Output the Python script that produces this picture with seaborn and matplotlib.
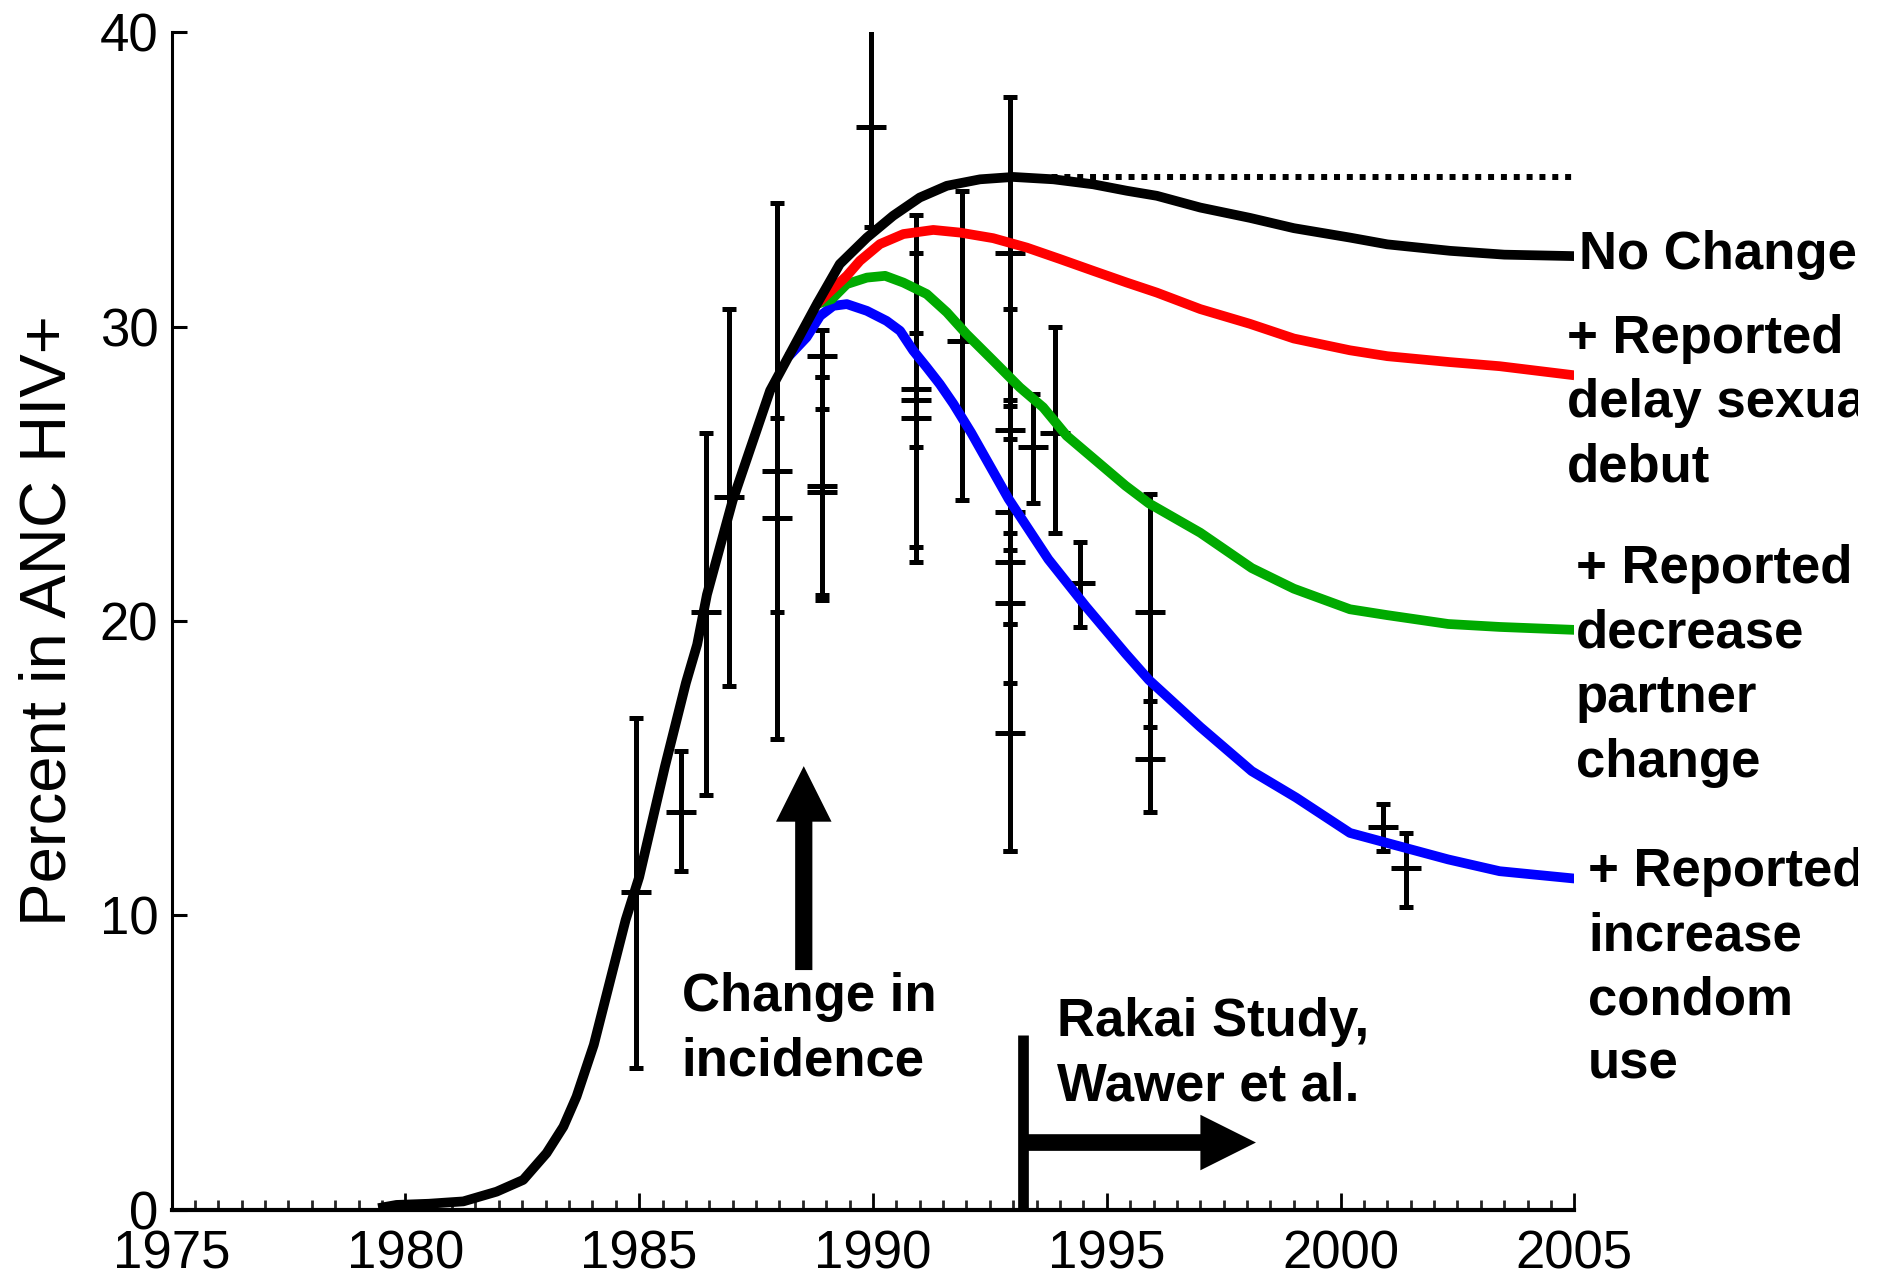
import numpy as np
import pandas as pd
import matplotlib
matplotlib.use("Agg")
import matplotlib.pyplot as plt
from matplotlib.ticker import MultipleLocator
from matplotlib.patches import Rectangle
import seaborn as sns

# ---- Model projections: percent of antenatal-clinic attendees HIV+ ----
year_none = [1979.42, 1979.81, 1980.5, 1981.24, 1981.95, 1982.52, 1983.02, 1983.38,
             1983.66, 1984.03, 1984.43, 1984.71, 1985.0, 1985.55, 1986.0, 1986.24,
             1986.45, 1987.0, 1987.8, 1988.3, 1988.8, 1989.29, 1989.87, 1990.43,
             1991.0, 1991.58, 1992.29, 1993.0, 1993.86, 1994.71, 1995.43, 1996.07,
             1997.0, 1998.06, 1999.0, 2000.2, 2001.0, 2002.34, 2003.5, 2005.0]
pct_none = [0.05, 0.16, 0.2, 0.28, 0.61, 1.01, 1.92, 2.82,
            3.84, 5.6, 8.1, 9.84, 11.3, 15.05, 17.9, 19.2,
            20.9, 24.1, 27.83, 29.3, 30.77, 32.13, 33.03, 33.77,
            34.39, 34.79, 35.01, 35.09, 35.01, 34.84, 34.62, 34.45,
            34.05, 33.7, 33.35, 33.03, 32.8, 32.58, 32.45, 32.4]

year_debut = [1988.8, 1989.44, 1989.72, 1990.15, 1990.65, 1991.29, 1991.86, 1992.57,
              1993.29, 1994.0, 1994.71, 1995.43, 1996.07, 1997.0, 1998.06, 1999.0,
              2000.2, 2001.0, 2002.33, 2003.4, 2005.0]
pct_debut = [30.77, 31.73, 32.24, 32.81, 33.15, 33.29, 33.2, 33.01,
             32.69, 32.3, 31.9, 31.5, 31.16, 30.6, 30.1, 29.6,
             29.2, 29.0, 28.8, 28.66, 28.35]

year_partner = [1988.8, 1989.12, 1989.44, 1989.87, 1990.26, 1990.65, 1991.15, 1991.58,
                1992.0, 1992.57, 1993.14, 1993.64, 1994.14, 1995.4, 1995.9, 1997.0,
                1998.1, 1999.0, 2000.2, 2001.0, 2002.3, 2003.4, 2005.0]
pct_partner = [30.77, 30.94, 31.45, 31.67, 31.73, 31.5, 31.11, 30.49,
               29.75, 28.85, 27.94, 27.26, 26.3, 24.6, 24.0, 23.0,
               21.8, 21.1, 20.4, 20.2, 19.9, 19.8, 19.7]

year_condom = [1988.2, 1988.58, 1988.87, 1989.15, 1989.44, 1989.87, 1990.29, 1990.58,
               1990.86, 1991.15, 1991.43, 1991.72, 1992.1, 1992.9, 1993.75, 1994.55,
               1995.4, 1995.9, 1997.0, 1998.1, 1999.05, 2000.2, 2002.3, 2003.4, 2005.0]
pct_condom = [29.0, 29.64, 30.37, 30.71, 30.77, 30.54, 30.2, 29.86,
              29.19, 28.62, 28.05, 27.38, 26.4, 24.15, 22.1, 20.5,
              18.9, 18.0, 16.4, 14.9, 14.0, 12.8, 11.9, 11.5, 11.25]

scenario_names = ["No Change",
                  "+ Reported\ndelay sexual\ndebut",
                  "+ Reported\ndecrease\npartner\nchange",
                  "+ Reported\nincrease\ncondom\nuse"]
scenario_colors = ["#000000", "#FF0000", "#00AA00", "#0000FF"]

# ---- ANC surveillance estimates with confidence ranges ----
obs_year = [1984.93, 1985.9, 1986.42, 1986.92, 1987.95, 1987.95,
            1988.92, 1988.92, 1988.92, 1989.96,
            1990.93, 1990.93, 1990.93, 1991.9,
            1992.93, 1992.93, 1992.93, 1992.93, 1992.93, 1992.93,
            1993.42, 1993.9, 1994.43, 1995.92, 1995.92, 2000.9, 2001.4]
obs_pct = [10.8, 13.5, 20.3, 24.2, 25.1, 23.5,
           29.0, 24.6, 24.4, 36.8,
           27.9, 27.5, 26.9, 29.5,
           32.5, 26.5, 23.7, 22.0, 20.6, 16.2,
           25.9, 26.4, 21.3, 20.3, 15.3, 13.0, 11.6]
obs_low = [4.8, 11.5, 14.1, 17.8, 16.0, 20.3,
           28.3, 20.7, 20.9, 33.4,
           22.0, 22.5, 25.9, 24.1,
           27.3, 22.4, 19.9, 17.9, 12.2, 12.2,
           24.0, 23.0, 19.8, 16.4, 13.5, 12.2, 10.3]
obs_high = [16.7, 15.6, 26.4, 30.6, 34.2, 26.9,
            29.9, 28.3, 27.2, 41.0,
            33.8, 32.5, 29.8, 34.6,
            37.8, 30.6, 27.5, 26.2, 23.0, 19.9,
            27.7, 30.0, 22.7, 24.3, 17.3, 13.8, 12.8]

x_ticks = [1975, 1980, 1985, 1990, 1995, 2000, 2005]
y_ticks = [0, 10, 20, 30, 40]

# ---- Assemble long-form table for seaborn ----
frames = []
for name, yrs, vals in zip(scenario_names,
                           [year_none, year_debut, year_partner, year_condom],
                           [pct_none, pct_debut, pct_partner, pct_condom]):
    frames.append(pd.DataFrame({"year": yrs, "pct": vals, "scenario": name}))
curves = pd.concat(frames, ignore_index=True)

sns.set_style("ticks")
plt.rcParams["font.family"] = ["Liberation Sans", "DejaVu Sans"]

fig = plt.figure(figsize=(18.81, 12.78), dpi=100)
ax = fig.add_axes([0.0912, 0.0535, 0.7458, 0.9211])

# Observed estimates with error bars
yerr = [np.array(obs_pct) - np.array(obs_low), np.array(obs_high) - np.array(obs_pct)]
ax.errorbar(obs_year, obs_pct, yerr=yerr, fmt="_", color="k", ms=21, mew=3.6,
            elinewidth=3.6, capsize=5.0, capthick=5.5, zorder=2)

# Reference level: peak of the no-change projection held constant
peak = max(pct_none)
ax.hlines(peak, 1993.0, 2005.0, colors="k", linewidth=4.3,
          linestyles=(0, (1.0, 1.15)), zorder=2.5)

# Projections (black drawn last so it sits on top where curves coincide)
draw_order = scenario_names[::-1]
palette = dict(zip(scenario_names, scenario_colors))
sns.lineplot(data=curves, x="year", y="pct", hue="scenario", hue_order=draw_order,
             palette=palette, linewidth=7, legend=False, estimator=None,
             ax=ax, zorder=3)
for ln in ax.get_lines():
    ln.set_solid_capstyle("butt")

# Axes styling
ax.set_xlim(1975, 2005)
ax.set_ylim(0, 40)
ax.set_xticks(x_ticks)
ax.set_yticks(y_ticks)
ax.xaxis.set_minor_locator(MultipleLocator(0.5))
ax.tick_params(axis="x", which="major", direction="in", length=12.5, width=2,
               labelsize=38, pad=14.5, colors="k")
ax.tick_params(axis="x", which="minor", direction="in", length=7, width=2)
ax.tick_params(axis="y", which="major", direction="in", length=11, width=2.2,
               labelsize=38, pad=9.5, colors="k")
ax.spines["top"].set_visible(False)
ax.spines["right"].set_visible(False)
ax.spines["left"].set_linewidth(2.2)
ax.spines["bottom"].set_linewidth(3)
ax.spines["left"].set_color("k")
ax.spines["bottom"].set_color("k")
ax.set_xlabel("")
ax.set_ylabel("Percent in ANC HIV+", fontsize=47, color="k")
ax.yaxis.set_label_coords(-0.066, 0.5)

LINE_GAP = 2.12      # baseline-to-baseline distance of label lines, in data units
LINESPACING = 1.37


def block_text(x, first_baseline, text):
    """Multi-line bold label whose first line sits on the given baseline."""
    n = text.count("\n")
    ax.text(x, first_baseline - n * LINE_GAP, text, fontsize=38, fontweight="bold",
            ha="left", va="baseline", linespacing=LINESPACING, color="k",
            clip_on=False)


# Annotation: change in incidence
ax.annotate("", xy=(1988.52, 15.07), xytext=(1988.52, 8.14),
            arrowprops=dict(arrowstyle="simple,head_length=1,head_width=1,tail_width=0.31",
                            mutation_scale=40, fc="k", ec="none",
                            shrinkA=0, shrinkB=0), zorder=4)
block_text(1985.91, 6.67, "Change in\nincidence")

# Annotation: Rakai study period
ax.plot([1993.21, 1993.21], [0, 5.93], color="k", lw=7.7, solid_capstyle="butt",
        zorder=4)
ax.annotate("", xy=(1998.19, 2.28), xytext=(1993.21, 2.28),
            arrowprops=dict(arrowstyle="simple,head_length=1,head_width=1,tail_width=0.3",
                            mutation_scale=40, fc="k", ec="none",
                            shrinkA=0, shrinkB=0), zorder=4)
block_text(1993.93, 5.82, "Rakai Study,\nWawer et al.")

# Scenario labels at the right end of each curve
label_pos = [(2005.09, 31.96), (2004.84, 28.97), (2005.03, 21.07), (2005.29, 10.8)]
for name, (lx, ly) in zip(scenario_names, label_pos):
    block_text(lx, ly, name)

# Panel is cropped on its right-hand margin
fig.add_artist(Rectangle((0.9878, 0.0), 0.0122, 1.0, transform=fig.transFigure,
                         facecolor="white", edgecolor="none", zorder=10))

fig.savefig("out.png", dpi=100)
